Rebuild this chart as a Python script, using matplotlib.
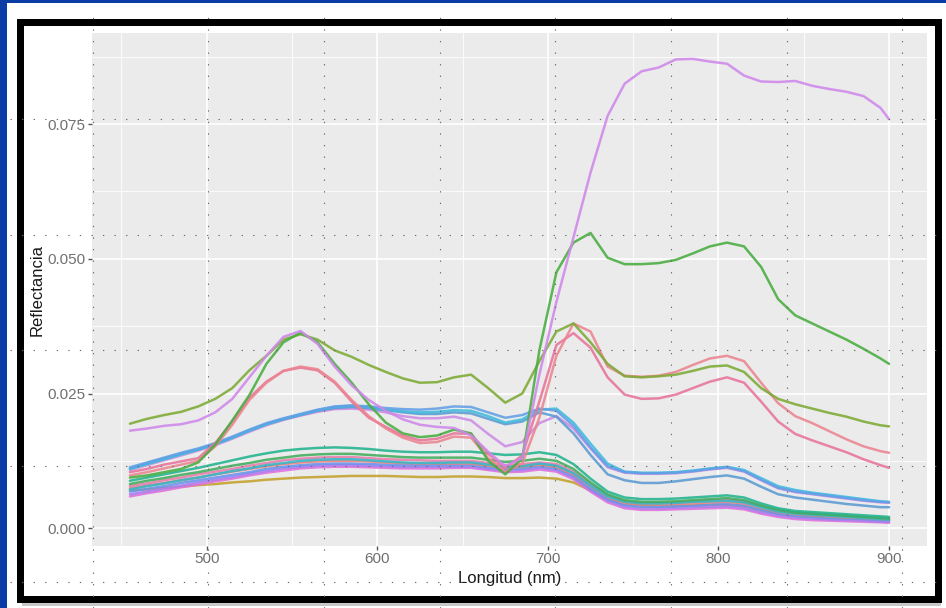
import matplotlib
matplotlib.use('Agg')
import matplotlib.pyplot as plt
from matplotlib.lines import Line2D
from matplotlib.patches import Rectangle
from matplotlib.ticker import MultipleLocator

plt.rcParams['font.family'] = ['Liberation Sans', 'DejaVu Sans']

# Longitudes de onda (nm)
wl = [455, 465, 475, 485, 495, 505, 515, 525, 535, 545, 555, 565,
      575, 585, 595, 605, 615, 625, 635, 645, 655, 665, 675,
      685, 695, 705, 715, 725, 735, 745, 755, 765, 775, 785,
      795, 805, 815, 825, 835, 845, 855, 865, 875, 885, 895,
      900]

# Curvas altas
violeta = [.0181, .0185, .0190, .0193, .0200, .0215, .0240, .0280, .0320, .0355, .0366, .0342,
           .0300, .0265, .0238, .0218, .0202, .0192, .0188, .0186, .0172, .0142, .0115,
           .0130, .0285, .0420, .0540, .0660, .0765, .0825, .0848, .0855, .0870, .0871,
           .0866, .0862, .0840, .0829, .0828, .0830, .0821, .0815, .0810, .0802, .0780,
           .0759]
verde = [.0094, .0098, .0104, .0110, .0122, .0155, .0200, .0247, .0305, .0345, .0363, .0345,
         .0305, .0270, .0230, .0196, .0176, .0169, .0172, .0183, .0176, .0125, .0100,
         .0130, .0330, .0475, .0530, .0548, .0502, .0490, .0490, .0492, .0498, .0510,
         .0523, .0530, .0523, .0485, .0425, .0395, .0380, .0365, .0350, .0333, .0315,
         .0305]
oliva = [.0194, .0203, .0210, .0216, .0226, .0240, .0260, .0293, .0320, .0350, .0360, .0350,
         .0330, .0318, .0303, .0290, .0278, .0270, .0271, .0280, .0285, .0260, .0233,
         .0250, .0310, .0365, .0380, .0345, .0305, .0282, .0280, .0282, .0285, .0292,
         .0300, .0302, .0290, .0260, .0240, .0230, .0222, .0214, .0207, .0198, .0191,
         .0189]
rosa1 = [.0104, .0110, .0118, .0124, .0130, .0158, .0198, .0242, .0272, .0292, .0298, .0293,
         .0270, .0235, .0205, .0188, .0172, .0163, .0166, .0176, .0175, .0138, .0112,
         .0135, .0235, .0340, .0362, .0335, .0280, .0248, .0240, .0241, .0248, .0260,
         .0272, .0280, .0270, .0235, .0198, .0175, .0163, .0152, .0141, .0128, .0117,
         .0112]
rosa2 = [.0098, .0104, .0111, .0118, .0125, .0152, .0192, .0238, .0270, .0292, .0300, .0295,
         .0272, .0238, .0208, .0185, .0168, .0158, .0160, .0170, .0168, .0130, .0105,
         .0120, .0205, .0320, .0380, .0365, .0300, .0283, .0281, .0283, .0290, .0303,
         .0315, .0320, .0310, .0270, .0232, .0208, .0195, .0180, .0165, .0152, .0143,
         .0140]

# Curvas intermedias
azul1 = [.0113, .0122, .0131, .0140, .0148, .0158, .0170, .0183, .0195, .0204, .0212, .0220,
         .0226, .0228, .0226, .0223, .0221, .0220, .0222, .0226, .0225, .0215, .0205,
         .0210, .0222, .0218, .0190, .0150, .0115, .0104, .0102, .0102, .0103, .0106,
         .0110, .0113, .0106, .0090, .0075, .0068, .0064, .0060, .0056, .0052, .0049,
         .0048]
cian = [.0110, .0119, .0128, .0137, .0146, .0156, .0168, .0181, .0193, .0203, .0211, .0219,
        .0225, .0227, .0225, .0220, .0217, .0215, .0216, .0219, .0218, .0208, .0196,
        .0202, .0220, .0222, .0196, .0157, .0120, .0105, .0103, .0103, .0104, .0107,
        .0111, .0114, .0108, .0093, .0078, .0071, .0066, .0062, .0058, .0054, .0050,
        .0049]
azul2 = [.0111, .0120, .0129, .0138, .0146, .0156, .0168, .0181, .0193, .0202, .0210, .0218,
         .0223, .0225, .0223, .0219, .0215, .0212, .0212, .0215, .0213, .0203, .0193,
         .0198, .0215, .0207, .0176, .0136, .0100, .0089, .0084, .0084, .0087, .0091,
         .0095, .0098, .0092, .0077, .0063, .0057, .0053, .0049, .0045, .0042, .0039,
         .0039]
lila = [.0108, .0117, .0126, .0135, .0144, .0154, .0166, .0179, .0191, .0201, .0209, .0216,
        .0221, .0222, .0220, .0215, .0208, .0204, .0204, .0207, .0200, .0175, .0152,
        .0160, .0195, .0208, .0185, .0148, .0113, .0103, .0101, .0101, .0102, .0105,
        .0109, .0112, .0105, .0089, .0074, .0067, .0063, .0059, .0055, .0051, .0048,
        .0047]

# Curvas bajas
bajo1 = [.0088, .0094, .0100, .0106, .0112, .0119, .0126, .0133, .0139, .0144, .0147, .0149,
         .0150, .0149, .0147, .0144, .0142, .0141, .0141, .0142, .0142, .0139, .0136,
         .0137, .0141, .0136, .0119, .0092, .0068, .0057, .0054, .0054, .0055, .0057,
         .0059, .0061, .0057, .0046, .0037, .0032, .0030, .0028, .0026, .0024, .0022,
         .0021]
bajo2 = [.0082, .0088, .0093, .0099, .0104, .0110, .0116, .0121, .0127, .0131, .0135, .0137,
         .0138, .0138, .0136, .0134, .0132, .0131, .0131, .0131, .0131, .0127, .0123,
         .0125, .0129, .0125, .0110, .0085, .0063, .0052, .0049, .0049, .0050, .0052,
         .0054, .0056, .0052, .0042, .0034, .0029, .0027, .0025, .0023, .0021, .0019,
         .0018]
bajo3 = [.0078, .0083, .0089, .0094, .0100, .0105, .0110, .0116, .0121, .0126, .0129, .0131,
         .0132, .0132, .0130, .0128, .0127, .0126, .0125, .0125, .0125, .0121, .0117,
         .0119, .0122, .0119, .0105, .0082, .0061, .0050, .0047, .0047, .0048, .0050,
         .0052, .0053, .0050, .0041, .0033, .0029, .0027, .0025, .0023, .0021, .0020,
         .0019]
bajo4 = [.0074, .0079, .0084, .0089, .0094, .0100, .0105, .0110, .0115, .0119, .0122, .0124,
         .0125, .0125, .0124, .0122, .0121, .0120, .0120, .0120, .0120, .0116, .0113,
         .0114, .0118, .0114, .0100, .0078, .0058, .0047, .0044, .0044, .0045, .0046,
         .0048, .0049, .0046, .0038, .0030, .0026, .0024, .0022, .0020, .0019, .0017,
         .0017]
bajo5 = [.0068, .0073, .0078, .0084, .0089, .0094, .0099, .0104, .0110, .0114, .0117, .0119,
         .0120, .0120, .0119, .0118, .0117, .0117, .0117, .0117, .0117, .0113, .0110,
         .0111, .0115, .0111, .0097, .0074, .0054, .0043, .0040, .0040, .0041, .0042,
         .0044, .0045, .0042, .0034, .0027, .0023, .0021, .0019, .0018, .0017, .0015,
         .0015]
bajo6 = [.0063, .0068, .0074, .0079, .0085, .0090, .0095, .0101, .0106, .0111, .0114, .0116,
         .0117, .0117, .0116, .0115, .0114, .0114, .0114, .0114, .0114, .0110, .0107,
         .0108, .0112, .0108, .0094, .0071, .0051, .0040, .0037, .0037, .0038, .0039,
         .0040, .0041, .0038, .0030, .0024, .0020, .0018, .0016, .0015, .0014, .0012,
         .0012]
bajo7 = [.0059, .0065, .0070, .0076, .0081, .0087, .0092, .0098, .0103, .0107, .0111, .0113,
         .0114, .0114, .0113, .0112, .0111, .0111, .0111, .0112, .0112, .0108, .0104,
         .0105, .0109, .0105, .0091, .0068, .0048, .0037, .0034, .0034, .0035, .0036,
         .0037, .0038, .0035, .0027, .0021, .0017, .0015, .0014, .0013, .0012, .0011,
         .0010]
bajo8 = [.0070, .0072, .0075, .0077, .0080, .0082, .0085, .0087, .0090, .0092, .0094, .0095,
         .0096, .0097, .0097, .0097, .0096, .0095, .0095, .0096, .0096, .0095, .0093,
         .0093, .0094, .0092, .0085, .0070, .0054, .0045, .0042, .0041, .0041, .0042,
         .0043, .0043, .0041, .0033, .0027, .0023, .0021, .0019, .0018, .0016, .0015,
         .0014]
bajo9 = [.0072, .0078, .0083, .0089, .0094, .0100, .0106, .0111, .0117, .0121, .0125, .0127,
         .0128, .0128, .0126, .0124, .0122, .0121, .0121, .0122, .0122, .0118, .0114,
         .0115, .0120, .0116, .0102, .0079, .0059, .0049, .0046, .0046, .0047, .0049,
         .0050, .0051, .0048, .0039, .0031, .0027, .0025, .0023, .0021, .0019, .0017,
         .0016]

curvas = [
    (bajo8, '#C4A12C'), (bajo7, '#E070DC'), (bajo6, '#A97EF0'), (bajo5, '#6C92EC'),
    (bajo4, '#EE807A'), (bajo3, '#E87DA9'), (bajo9, '#34B8C8'), (bajo2, '#40AD5C'),
    (bajo1, '#22B48E'),
    (lila, '#CC8CE6'), (azul2, '#5B9AD2'), (cian, '#3EBDDD'), (azul1, '#629FE6'),
    (rosa1, '#E8749B'), (rosa2, '#EC8590'), (oliva, '#7DAA34'), (verde, '#49AD40'),
    (violeta, '#CF88EA'),
]

W, H = 946, 608
fig = plt.figure(figsize=(W / 100, H / 100), dpi=100, facecolor='white')

# fondo azul y marco negro
fig.add_artist(Rectangle((0, 0), 7 / W, 1, transform=fig.transFigure,
                         facecolor='#0A3CA6', lw=0, zorder=-2))
fig.add_artist(Rectangle((0, 1 - 3 / H), 1, 3 / H, transform=fig.transFigure,
                         facecolor='#0A3CA6', lw=0, zorder=-2))
fig.add_artist(Rectangle((22 / W, 1 - 606 / H), 919 / W, 5 / H, transform=fig.transFigure,
                         facecolor='#C8C8C8', lw=0, zorder=-1))
fig.add_artist(Rectangle((19.5 / W, 1 - 598.5 / H), 918 / W, 577 / H,
                         transform=fig.transFigure, fill=False,
                         edgecolor='black', lw=7 * 0.72, zorder=3))

ax = fig.add_axes([92 / W, 1 - 546 / H, 835 / W, 513 / H])
ax.set_facecolor('#EBEBEB')
for s in ax.spines.values():
    s.set_visible(False)

for vals, col in curvas:
    ax.plot(wl, vals, color=col, linewidth=1.8, alpha=0.88,
            solid_capstyle='round', solid_joinstyle='round')

ax.set_xlim(432.75, 922.25)
ax.set_ylim(-0.0033, 0.0919)
ax.xaxis.set_major_locator(MultipleLocator(100))
ax.xaxis.set_minor_locator(MultipleLocator(50))
ax.yaxis.set_major_locator(MultipleLocator(0.025))
ax.yaxis.set_minor_locator(MultipleLocator(0.0125))
ax.set_yticks([0, 0.025, 0.05, 0.075])
ax.set_yticklabels(['0.000', '0.025', '0.050', '0.075'])
ax.set_axisbelow(True)
ax.grid(which='major', color='white', linewidth=1.2)
ax.grid(which='minor', color='white', linewidth=0.6)
ax.tick_params(which='major', length=3, width=1.0, color='#555555',
               labelcolor='#707070', labelsize=11, pad=1.5)
ax.tick_params(which='minor', length=0)

ax.set_xlabel('Longitud (nm)', fontsize=12, color='#1a1a1a', va='center')
ax.xaxis.set_label_coords(0.5, -0.0624)
ax.set_ylabel('Reflectancia', fontsize=12, color='#1a1a1a', va='center')
ax.yaxis.set_label_coords(-0.0659, 0.5)

# cuadricula punteada superpuesta
for px in [93, 208, 324, 440, 555, 671, 787, 902]:
    fig.add_artist(Line2D([px / W, px / W], [0, 1 - 10 / H], transform=fig.transFigure,
                          color='#6a6a6a', lw=0.8, dashes=(1.2, 9.2), zorder=5))
for py in [119, 235, 350, 466, 582]:
    fig.add_artist(Line2D([10 / W, 1], [1 - py / H, 1 - py / H], transform=fig.transFigure,
                          color='#6a6a6a', lw=0.8, dashes=(1.2, 9.2), zorder=5))

fig.savefig('out.png', dpi=100, facecolor='white')
